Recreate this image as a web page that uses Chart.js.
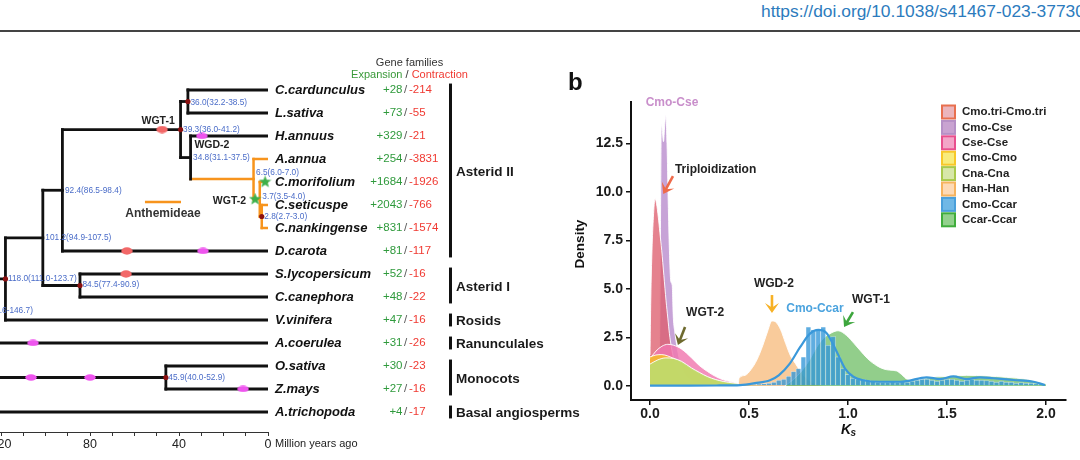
<!DOCTYPE html>
<html><head><meta charset="utf-8">
<script src="https://cdn.jsdelivr.net/npm/chart.js@4.4.0/dist/chart.umd.min.js"></script>
<style>
html,body{margin:0;padding:0;background:#fff;width:1080px;height:460px;overflow:hidden;position:relative;}
#url{position:absolute;left:761px;top:0px;line-height:22px;font-size:17.4px;font-family:"Liberation Sans",Arial,sans-serif;color:#2c7bbd;white-space:nowrap;}
#rule{position:absolute;left:0;top:30px;width:1080px;height:2px;background:#444;}
#tree{position:absolute;left:0;top:0;}
#ks{position:absolute;left:560px;top:40px;}
</style></head><body>
<div id="url">https://doi.org/10.1038/s41467-023-37730</div>
<div id="rule"></div>
<canvas id="tree" width="590" height="460"></canvas>
<canvas id="ks" width="520" height="420"></canvas>
<script>
// ================= DATA : panel a (phylogeny) =================
const species = ["C.cardunculus","L.sativa","H.annuus","A.annua","C.morifolium","C.seticuspe","C.nankingense","D.carota","S.lycopersicum","C.canephora","V.vinifera","A.coerulea","O.sativa","Z.mays","A.trichopoda"];
const expansion = [28,73,329,254,1684,2043,831,81,52,48,47,31,30,27,4];
const contraction = [214,55,21,3831,1926,766,1574,117,16,22,16,26,23,16,17];
const nodeNames = ["n36","n28","n37","n65","n34","n39","n92","n84","n101","n118","n140","n45","nMono","root"];
const nodeAges = [36.0,2.8,3.7,6.5,34.8,39.3,92.4,84.5,101.2,118.0,138.5,45.9,160,185];
const nodeChildren = [[0,1],[5,6],[4,"n28"],[3,"n37"],[2,"n65"],["n36","n34"],["n39",7],[8,9],["n92","n84"],["n101",10],["n118",11],[12,13],["n140","n45"],["nMono",14]];
const nodeLabels = ["36.0(32.2-38.5)","2.8(2.7-3.0)","3.7(3.5-4.0)","6.5(6.0-7.0)","34.8(31.1-37.5)","39.3(36.0-41.2)","92.4(86.5-98.4)","84.5(77.4-90.9)","101.2(94.9-107.5)","118.0(111.0-123.7)","138.5(130.6-146.7)","45.9(40.0-52.9)","",""];
const calibratedNodes = ["n36","n39","n28","n84","n118","n45"];
const anthemideae = ["n65","n37","n28",3,4,5,6];
const wgtAges = [47.6,63.4,63.8];          // red ellipses
const wgtOn = ["n39",7,8];
const wgdAges = [29.7,29.2,105.6,106.5,80.0,11.2]; // magenta ellipses
const wgdOn = [2,7,11,"n45","n45",13];
const starAges = [1.3,5.8];                // green stars
const starOn = [4,"n37"];
const groupNames = ["Asterid II","Asterid I","Rosids","Ranunculales","Monocots","Basal angiosperms"];
const groupFirst = [0,8,10,11,12,14];
const groupLast = [7,9,10,11,13,14];
const myaTicks = [0,10,20,30,40,50,60,70,80,90,100,110,120];
const myaLabelled = [0,40,80,120];

// ================= DATA : panel b (Ks distributions) =================
const seriesNames = ["Cmo.tri-Cmo.tri","Cmo-Cse","Cse-Cse","Cmo-Cmo","Cna-Cna","Han-Han","Cmo-Ccar","Ccar-Ccar"];
const cmoTriKs = [0,0.004,0.01,0.017,0.025,0.033,0.042,0.05,0.059,0.07,0.081,0.09,0.098,0.108,0.12,0.135,0.15,0.17,0.2,0.25];
const cmoTriDen = [1.6,4.5,7.0,8.7,9.65,9.4,8.7,7.9,7.0,5.7,4.4,3.5,2.7,2.0,1.4,0.9,0.55,0.3,0.12,0.03];
const cmoCseKs = [0.045,0.05,0.054,0.057,0.062,0.068,0.074,0.08,0.086,0.092,0.098,0.105,0.112,0.118,0.125,0.135,0.15,0.17,0.2,0.25,0.3];
const cmoCseDen = [0,4,10,13.5,13.2,12.6,13.4,13.95,12.5,9.5,7.0,5.4,5.2,3.5,2.8,2.1,1.3,0.7,0.35,0.12,0.03];
const cseCseKs = [0,0.03,0.06,0.09,0.12,0.16,0.21,0.25,0.29,0.33,0.37,0.42,0.47,0.53,0.6];
const cseCseDen = [1.4,1.8,2.05,2.15,2.1,1.9,1.45,1.05,0.75,0.5,0.32,0.2,0.1,0.05,0.02];
const cmoCmoKs = [0,0.03,0.06,0.09,0.12,0.16,0.21,0.25,0.29,0.33,0.37,0.42,0.47,0.54,0.6];
const cmoCmoDen = [1.5,1.6,1.62,1.55,1.42,1.22,0.88,0.66,0.46,0.31,0.21,0.13,0.08,0.04,0.02];
const cnaCnaKs = [0,0.04,0.08,0.12,0.16,0.21,0.25,0.29,0.33,0.37,0.42,0.47,0.54,0.6,0.66,0.72];
const cnaCnaDen = [1.13,1.35,1.45,1.42,1.27,0.93,0.7,0.49,0.34,0.24,0.16,0.11,0.06,0.04,0.02,0.01];
const hanHanKs = [0.445,0.45,0.48,0.51,0.54,0.57,0.595,0.615,0.635,0.66,0.685,0.71,0.735,0.76,0.79,0.82,0.86,0.9];
const hanHanDen = [0,0.4,0.55,0.85,1.35,2.1,2.85,3.35,3.3,2.9,2.2,1.55,1.15,0.75,0.4,0.18,0.05,0];
const ccarCcarKs = [0.68,0.72,0.76,0.8,0.842,0.875,0.909,0.95,0.993,1.03,1.06,1.1,1.145,1.18,1.21,1.245,1.27,1.3,1.35,1.4,1.5,1.6,1.7,1.8,1.9,1.97,2.0];
const ccarCcarDen = [0,0.3,0.7,1.25,2.0,2.45,2.7,2.85,2.6,2.2,1.85,1.4,1.05,0.88,0.82,0.78,0.6,0.35,0.32,0.42,0.5,0.55,0.52,0.45,0.35,0.2,0.1];
const cmoCcarKs = [0,0.2,0.35,0.455,0.53,0.606,0.65,0.707,0.758,0.808,0.85,0.89,0.943,0.985,1.027,1.077,1.16,1.263,1.296,1.397,1.465,1.532,1.6,1.667,1.734,1.835,1.936,1.995];
const cmoCcarDen = [0.02,0.02,0.03,0.05,0.15,0.3,0.55,1.17,2.0,2.7,2.89,2.75,1.77,0.9,0.48,0.3,0.22,0.22,0.25,0.45,0.36,0.5,0.36,0.45,0.4,0.31,0.22,0.05];
const cmoCcarBinKs = [0.45,0.475,0.5,0.525,0.55,0.575,0.6,0.625,0.65,0.675,0.7,0.725,0.75,0.775,0.8,0.825,0.85,0.875,0.9,0.925,0.95,0.975,1.0,1.025,1.05,1.075,1.1,1.125,1.15,1.175,1.2,1.225,1.25,1.275,1.3,1.325,1.35,1.375,1.4,1.425,1.45,1.475,1.5,1.525,1.55,1.575,1.6,1.625,1.65,1.675,1.7,1.725,1.75,1.775,1.8,1.825,1.85,1.875,1.9,1.925,1.95,1.975];
const cmoCcarBinDen = [0.05,0.05,0.08,0.08,0.1,0.12,0.14,0.2,0.3,0.35,0.5,0.75,0.9,1.5,3.05,2.9,2.95,3.05,2.1,2.55,1.5,0.9,0.6,0.4,0.35,0.35,0.3,0.25,0.2,0.2,0.2,0.22,0.2,0.22,0.2,0.25,0.3,0.35,0.35,0.3,0.25,0.3,0.35,0.35,0.3,0.25,0.3,0.35,0.3,0.3,0.28,0.25,0.2,0.25,0.2,0.2,0.15,0.18,0.15,0.15,0.12,0.1];
const ksTicks = [0,0.5,1.0,1.5,2.0];
const densityTicks = [0,2.5,5,7.5,10,12.5];

// ================= helpers =================
const F = '"Liberation Sans", Arial, sans-serif';
function txt(ctx, s, x, y, font, color, align, base) {
  ctx.font = font; ctx.fillStyle = color; ctx.textAlign = align || 'left'; ctx.textBaseline = base || 'middle';
  ctx.fillText(s, x, y);
}
const nIdx = n => nodeNames.indexOf(n);
function yOf(c) { if (typeof c === 'number') return c; const ch = nodeChildren[nIdx(c)]; return (yOf(ch[0]) + yOf(ch[1])) / 2; }
function ageOf(c) { return typeof c === 'number' ? 0 : nodeAges[nIdx(c)]; }
function ellipseImg(w, h, color) {
  const c = document.createElement('canvas'); c.width = w; c.height = h;
  const g = c.getContext('2d'); g.fillStyle = color; g.beginPath(); g.ellipse(w/2, h/2, w/2 - 0.3, h/2 - 0.3, 0, 0, Math.PI*2); g.fill(); return c;
}
function starImg(size, color) {
  const c = document.createElement('canvas'); c.width = size; c.height = size;
  const g = c.getContext('2d'); g.fillStyle = color; g.beginPath();
  const R = size/2, r = R*0.42;
  for (let i = 0; i < 10; i++) { const a = -Math.PI/2 + i*Math.PI/5; const rr = i%2 ? r : R; g.lineTo(R + rr*Math.cos(a), R + rr*Math.sin(a)); }
  g.closePath(); g.fill(); return c;
}

// ================= panel a datasets =================
const BLACK = '#111', ORANGE = '#F7941D';
const treeSets = [];
nodeNames.forEach((n, i) => {
  const ch = nodeChildren[i], age = nodeAges[i];
  treeSets.push({ data: [{x: age, y: yOf(ch[0])}, {x: age, y: yOf(ch[1])}], borderColor: anthemideae.includes(n) ? ORANGE : BLACK });
  ch.forEach(c => {
    treeSets.push({ data: [{x: age, y: yOf(c)}, {x: ageOf(c), y: yOf(c)}], borderColor: anthemideae.includes(c) ? ORANGE : BLACK });
  });
});
const lineSets = treeSets.map(s => Object.assign(s, { showLine: true, pointRadius: 0, borderWidth: s.borderColor === ORANGE ? 2.5 : 2.8, borderCapStyle: 'square', fill: false, order: 5 }));
const markerSets = [
  { data: wgtAges.map((a, i) => ({x: a, y: yOf(wgtOn[i])})), pointStyle: ellipseImg(12, 8, '#F26868'), pointRadius: 5, clip: false, order: 1 },
  { data: wgdAges.map((a, i) => ({x: a, y: yOf(wgdOn[i])})), pointStyle: ellipseImg(12, 7, '#EE55EE'), pointRadius: 5, clip: false, order: 1 },
  { data: starAges.map((a, i) => ({x: a, y: yOf(starOn[i])})), pointStyle: starImg(13, '#3DB04A'), pointRadius: 5, clip: false, order: 0 },
  { data: calibratedNodes.map(n => ({x: ageOf(n), y: yOf(n)})), pointStyle: 'circle', pointRadius: 2.6, backgroundColor: '#8B1010', borderWidth: 0, clip: false, order: 0 }
];
const nodeLabelDy = {n36: 1.5, n65: -6, n37: -3, n84: -1};

const treeText = {
  id: 'treeText',
  afterDraw(chart) {
    const {ctx, scales: {x, y}} = chart;
    ctx.save();
    const x0 = x.getPixelForValue(0);
    // node age labels
    nodeNames.forEach((n, i) => {
      if (!nodeLabels[i]) return;
      txt(ctx, nodeLabels[i], x.getPixelForValue(nodeAges[i]) + 2.5, y.getPixelForValue(yOf(n)) + (nodeLabelDy[n] || 0), '8.3px ' + F, '#4A6CC8');
    });
    // event labels
    const b = 'bold 10.5px ' + F;
    txt(ctx, 'WGT-1', x.getPixelForValue(wgtAges[0]) - 4, y.getPixelForValue(yOf(wgtOn[0])) - 8.5, b, '#222', 'center');
    txt(ctx, 'WGD-2', x.getPixelForValue(wgdAges[0]) + 10, y.getPixelForValue(yOf(wgdOn[0])) + 9.5, b, '#222', 'center');
    txt(ctx, 'WGT-2', x.getPixelForValue(starAges[1]) - 9, y.getPixelForValue(yOf(starOn[1])) + 2, b, '#222', 'right');
    // Anthemideae key
    ctx.strokeStyle = ORANGE; ctx.lineWidth = 2.5; ctx.beginPath();
    ctx.moveTo(x.getPixelForValue(55.3), y.getPixelForValue(4.87)); ctx.lineTo(x.getPixelForValue(39.1), y.getPixelForValue(4.87)); ctx.stroke();
    txt(ctx, 'Anthemideae', x.getPixelForValue(47.2), y.getPixelForValue(5.39), 'bold 12px ' + F, '#333', 'center');
    // species & gene families
    const slashX = x0 + 137.5;
    species.forEach((s, i) => {
      const py = y.getPixelForValue(i);
      txt(ctx, s, x0 + 7, py, 'italic bold 13px ' + F, '#111');
      txt(ctx, '+' + expansion[i], slashX - 3, py, '11.5px ' + F, '#2F9A3C', 'right');
      txt(ctx, '/', slashX, py, '11.5px ' + F, '#555', 'center');
      txt(ctx, '-' + contraction[i], slashX + 3.5, py, '11.5px ' + F, '#F03A32', 'left');
    });
    // header
    const hy = y.getPixelForValue(-1.17);
    txt(ctx, 'Gene families', slashX + 4, hy, '11px ' + F, '#333', 'center');
    const ey = y.getPixelForValue(-0.66);
    ctx.font = '11px ' + F;
    const wE = ctx.measureText('Expansion').width, wS = ctx.measureText(' / ').width, wC = ctx.measureText('Contraction').width;
    let sx = slashX + 4 - (wE + wS + wC) / 2;
    txt(ctx, 'Expansion', sx, ey, '11px ' + F, '#3A9A3A'); sx += wE;
    txt(ctx, ' / ', sx, ey, '11px ' + F, '#333'); sx += wS;
    txt(ctx, 'Contraction', sx, ey, '11px ' + F, '#F03A32');
    // group bars
    groupNames.forEach((g, i) => {
      const t = y.getPixelForValue(groupFirst[i] - 0.28), btm = y.getPixelForValue(groupLast[i] + 0.28);
      ctx.fillStyle = '#111'; ctx.fillRect(x0 + 181, t, 3, btm - t);
      txt(ctx, g, x0 + 188, y.getPixelForValue((groupFirst[i] + groupLast[i]) / 2) + 1.5, 'bold 13.5px ' + F, '#1a1a1a');
    });
    // axis title
    txt(ctx, 'Million years ago', x0 + 7, chart.chartArea.bottom + 12, '11px ' + F, '#222');
    ctx.restore();
  }
};

new Chart(document.getElementById('tree'), {
  type: 'scatter',
  data: { datasets: lineSets.concat(markerSets) },
  options: {
    responsive: false, animation: false, events: [], devicePixelRatio: 1,
    layout: { autoPadding: false, padding: { left: 0, right: 322, top: 44, bottom: 0 } },
    plugins: { legend: { display: false }, tooltip: { enabled: false } },
    scales: {
      x: { type: 'linear', reverse: true, min: 0, max: 120.45,
        afterFit: s => { s.height = 28; },
        afterBuildTicks: s => { s.ticks = myaTicks.map(v => ({ value: v })); },
        ticks: { autoSkip: false, maxRotation: 0, padding: 1, color: '#222', font: { family: F, size: 12.5 }, callback: v => myaLabelled.includes(v) ? String(v) : '' },
        grid: { drawOnChartArea: false, drawTicks: true, tickLength: 4, color: '#333', lineWidth: 1 },
        border: { display: true, color: '#333', width: 1 } },
      y: { type: 'linear', display: false, reverse: true, min: -2, max: 14.87 }
    }
  },
  plugins: [treeText]
});

// ================= panel b =================
const pts = (xs, ys) => xs.map((v, i) => ({ x: v, y: ys[i] }));
const area = (label, xs, ys, color, order) => ({ label, data: pts(xs, ys), showLine: true, fill: 'origin', backgroundColor: color,
  borderColor: 'rgba(255,255,255,0.9)', borderWidth: 1, pointRadius: 0, cubicInterpolationMode: 'monotone', order });
const ksSets = [
  { label: 'Cmo-Ccar', data: pts(cmoCcarKs, cmoCcarDen), showLine: true, fill: false, borderColor: '#3A98DA', borderWidth: 2.2, pointRadius: 0, cubicInterpolationMode: 'monotone', order: 0 },
  { type: 'bar', label: 'Cmo-Ccar hist', data: pts(cmoCcarBinKs, cmoCcarBinDen), backgroundColor: 'rgba(50,150,215,0.78)', borderColor: 'rgba(255,255,255,0.55)', borderWidth: 0.6, grouped: false, barPercentage: 1, categoryPercentage: 1, order: 1 },
  area('Ccar-Ccar', ccarCcarKs, ccarCcarDen, 'rgba(100,185,90,0.7)', 2),
  area('Han-Han', hanHanKs, hanHanDen, 'rgba(248,190,130,0.8)', 3),
  area('Cna-Cna', cnaCnaKs, cnaCnaDen, 'rgba(190,220,110,0.9)', 4),
  area('Cmo-Cmo', cmoCmoKs, cmoCmoDen, 'rgba(247,190,40,0.85)', 5),
  area('Cse-Cse', cseCseKs, cseCseDen, 'rgba(240,120,175,0.82)', 6),
  area('Cmo.tri-Cmo.tri', cmoTriKs, cmoTriDen, 'rgba(222,95,110,0.78)', 7),
  area('Cmo-Cse', cmoCseKs, cmoCseDen, 'rgba(185,140,205,0.8)', 8)
];
const legendFill = ['#EBB5BC','#C9A3D1','#F3A5C8','#F8EC7C','#D7E7A9','#FDDAB6','#70B8E6','#93D18D'];
const legendBorder = ['#E8704F','#B690C6','#E8508E','#F7C829','#A9C94C','#F6B35E','#4A9FDA','#40AD3C'];
const annTexts = [
  { t: 'Cmo-Cse', x: 0.111, y: 14.6, c: '#C98FCB', a: 'center' },
  { t: 'Triploidization', x: 0.126, y: 11.13, c: '#222', a: 'left' },
  { t: 'WGT-2', x: 0.278, y: 3.76, c: '#222', a: 'center' },
  { t: 'WGD-2', x: 0.626, y: 5.26, c: '#222', a: 'center' },
  { t: 'Cmo-Ccar', x: 0.833, y: 3.97, c: '#4BA3DE', a: 'center' },
  { t: 'WGT-1', x: 1.116, y: 4.43, c: '#222', a: 'center' }
];
const annArrows = [
  { from: [0.116, 10.82], to: [0.067, 9.9], c: '#EE6A4A' },
  { from: [0.177, 3.04], to: [0.141, 2.11], c: '#6E6A2E' },
  { from: [0.616, 4.69], to: [0.616, 3.76], c: '#F7B125' },
  { from: [1.025, 3.81], to: [0.98, 3.04], c: '#3DA63D' }
];
function arrow(ctx, x1, y1, x2, y2, color) {
  const a = Math.atan2(y2 - y1, x2 - x1), hl = 10, hw = 7;
  ctx.save(); ctx.strokeStyle = color; ctx.fillStyle = color; ctx.lineWidth = 2.6;
  ctx.beginPath(); ctx.moveTo(x1, y1); ctx.lineTo(x2 - Math.cos(a) * 5, y2 - Math.sin(a) * 5); ctx.stroke();
  ctx.translate(x2, y2); ctx.rotate(a);
  ctx.beginPath(); ctx.moveTo(0, 0); ctx.lineTo(-hl, -hw); ctx.lineTo(-hl * 0.55, 0); ctx.lineTo(-hl, hw); ctx.closePath(); ctx.fill();
  ctx.restore();
}
const ksDecor = {
  id: 'ksDecor',
  afterDraw(chart) {
    const {ctx, scales: {x, y}, chartArea} = chart;
    ctx.save();
    annArrows.forEach(r => arrow(ctx, x.getPixelForValue(r.from[0]), y.getPixelForValue(r.from[1]), x.getPixelForValue(r.to[0]), y.getPixelForValue(r.to[1]), r.c));
    annTexts.forEach(r => txt(ctx, r.t, x.getPixelForValue(r.x), y.getPixelForValue(r.y), 'bold 12px ' + F, r.c, r.a));
    // panel letter
    txt(ctx, 'b', 8, 43, 'bold 24px ' + F, '#111', 'left');
    // axis titles
    ctx.save(); ctx.translate(20, (chartArea.top + chartArea.bottom) / 2 - 7); ctx.rotate(-Math.PI / 2);
    txt(ctx, 'Density', 0, 0, 'bold 13.5px ' + F, '#111', 'center'); ctx.restore();
    const kx = (chartArea.left + chartArea.right) / 2 + 0.5, ky = chartArea.bottom + 30;
    txt(ctx, 'K', kx - 8, ky, 'italic bold 14px ' + F, '#111', 'left');
    txt(ctx, 's', kx + 1.5, ky + 3, 'italic bold 10px ' + F, '#111', 'left');
    // legend
    seriesNames.forEach((n, i) => {
      const cy = 72 + i * 15.4;
      ctx.fillStyle = legendFill[i]; ctx.fillRect(382, cy - 6.5, 13, 13);
      ctx.strokeStyle = legendBorder[i]; ctx.lineWidth = 2; ctx.strokeRect(382, cy - 6.5, 13, 13);
      txt(ctx, n, 402, cy, 'bold 11.5px ' + F, '#222', 'left');
    });
    ctx.restore();
  }
};
new Chart(document.getElementById('ks'), {
  type: 'scatter',
  data: { datasets: ksSets },
  options: {
    responsive: false, animation: false, events: [], devicePixelRatio: 1,
    layout: { autoPadding: false, padding: { left: 0, right: 14, top: 62, bottom: 0 } },
    plugins: { legend: { display: false }, tooltip: { enabled: false } },
    scales: {
      x: { type: 'linear', min: -0.096, max: 2.101, offset: false,
        afterFit: s => { s.height = 60; },
        afterBuildTicks: s => { s.ticks = ksTicks.map(v => ({ value: v })); },
        ticks: { autoSkip: false, maxRotation: 0, padding: 1, color: '#1a1a1a', font: { family: F, size: 14, weight: 'bold' }, callback: v => Number(v).toFixed(1) },
        grid: { offset: false, drawOnChartArea: false, drawTicks: true, tickLength: 5, color: '#111', lineWidth: 1.5 },
        border: { display: true, color: '#111', width: 2 } },
      y: { type: 'linear', min: -0.72, max: 14.64, beginAtZero: false,
        afterFit: s => { s.width = 71; },
        afterBuildTicks: s => { s.ticks = densityTicks.map(v => ({ value: v })); },
        ticks: { autoSkip: false, padding: 3, color: '#1a1a1a', font: { family: F, size: 14, weight: 'bold' }, callback: v => Number(v).toFixed(1) },
        grid: { drawOnChartArea: false, drawTicks: true, tickLength: 5, color: '#111', lineWidth: 1.5 },
        border: { display: true, color: '#111', width: 2 } }
    }
  },
  plugins: [ksDecor]
});
</script>
</body></html>
